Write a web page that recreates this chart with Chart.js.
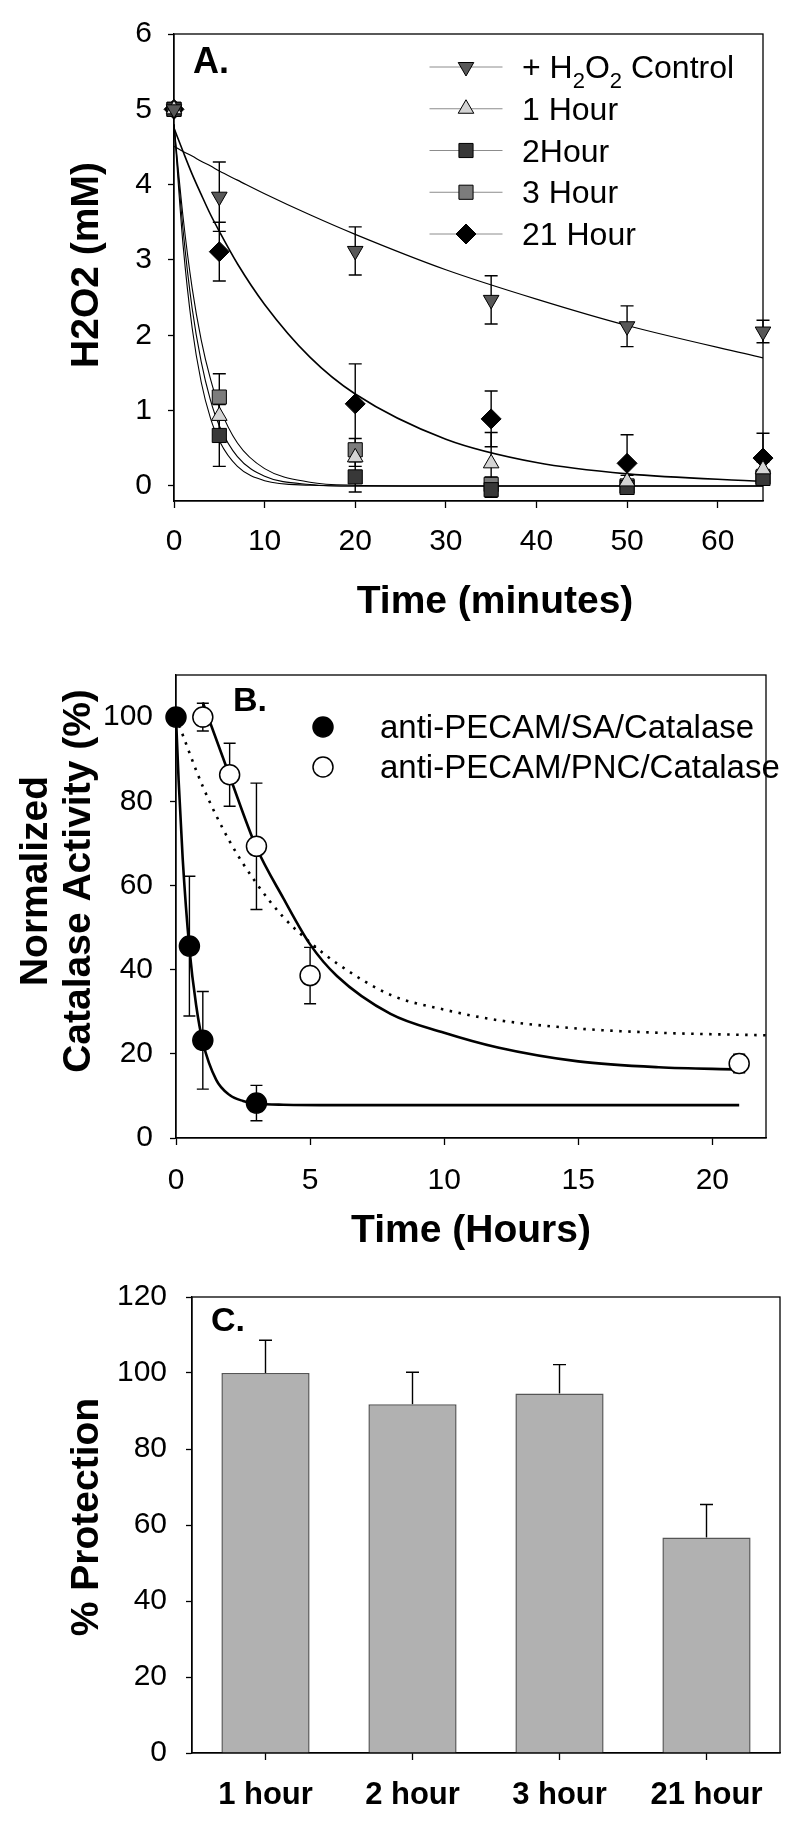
<!DOCTYPE html>
<html>
<head>
<meta charset="utf-8">
<script src="https://cdn.jsdelivr.net/npm/chart.js@4.4.0/dist/chart.umd.min.js"></script>
<style>
body { margin: 0; background: #fff; width: 800px; height: 1828px; position: relative; overflow: hidden; }
canvas { position: absolute; left: 0; }
</style>
</head>
<body>
<canvas id="chartA" width="800" height="640" style="top:0px"></canvas>
<canvas id="chartB" width="800" height="620" style="top:640px"></canvas>
<canvas id="chartC" width="800" height="568" style="top:1260px"></canvas>
<script>
// ---- Panel A: H2O2 (mM) vs time (minutes) ----
var timesA = [0, 5, 20, 35, 50, 65];
var controlA = [5, 3.84, 3.12, 2.47, 2.12, 2.05];
var controlErrA = [0, 0.46, 0.32, 0.32, 0.27, 0.15];
var hour1A = [5, 0.93, 0.38, 0.30, 0.06, 0.22];
var hour1ErrA = [0, 0.25, 0.12, 0.41, 0.08, 0.1];
var hour2A = [5, 0.67, 0.12, -0.05, -0.02, 0.10];
var hour2ErrA = [0, 0.41, 0.2, 0.1, 0.06, 0.08];
var hour3A = [5, 1.18, 0.48, 0.02, 0.0, 0.12];
var hour3ErrA = [0, 0.31, 0.15, 0.1, 0.06, 0.1];
var hour21A = [5, 3.11, 1.09, 0.89, 0.30, 0.37];
var hour21ErrA = [0, 0.39, 0.53, 0.37, 0.38, 0.33];

// fitted curves
var fitTimesA = [0, 1, 2, 3, 4, 5, 7, 10, 15, 20, 30, 40, 50, 65];
var controlFitA = [4.51, 4.44, 4.38, 4.31, 4.25, 4.18, 4.06, 3.88, 3.60, 3.34, 2.87, 2.48, 2.13, 1.70];
var hour1FitA = [4.8, 3.4, 2.36, 1.65, 1.15, 0.8, 0.39, 0.13, 0.02, 0, 0, 0, 0, 0];
var hour2FitA = [4.8, 3.2, 2.1, 1.38, 0.91, 0.6, 0.26, 0.07, 0.01, 0, 0, 0, 0, 0];
var hour3FitA = [4.8, 3.57, 2.63, 1.94, 1.43, 1.05, 0.57, 0.23, 0.05, 0.01, 0, 0, 0, 0];
var hour21FitA = [4.75, 4.44, 4.14, 3.87, 3.61, 3.38, 2.95, 2.41, 1.71, 1.22, 0.62, 0.31, 0.16, 0.06];

// ---- Panel B: normalized catalase activity (%) vs time (hours) ----
var timesSA = [0, 0.5, 1, 3];
var saActivity = [100, 45.6, 23.2, 8.3];
var saErr = [0, 16.6, 11.6, 4.2];
var timesPNC = [1, 2, 3, 5, 21];
var pncActivity = [100, 86.3, 69.3, 38.6, 17.7];
var pncErr = [3.3, 7.5, 15, 6.7, 2.2];

var saFitT = [0, 0.1, 0.25, 0.5, 0.75, 1, 1.5, 2, 2.5, 3, 4, 6, 10, 21];
var saFit = [100, 84.7, 66.3, 45, 31.6, 22.8, 13.8, 10.2, 8.8, 8.2, 7.9, 7.8, 7.8, 7.8];
var pncFitT = [1, 2, 3, 4, 5, 6, 8, 10, 12, 15, 18, 21];
var pncFit = [103.5, 86, 69, 57, 46, 38.5, 29.5, 25, 21.5, 18.2, 16.8, 16.3];
var pncDotT = [0, 1, 2, 3, 4, 5, 6, 8, 10, 12, 15, 18, 22];
var pncDot = [100, 83.5, 70.5, 60.5, 52.5, 46.5, 41.5, 34, 30.5, 28, 26, 25, 24.4];

// ---- Panel C: % protection ----
var groupsC = ['1 hour', '2 hour', '3 hour', '21 hour'];
var protectionC = [100, 91.8, 94.6, 56.7];
var protectionErrC = [8.6, 8.4, 7.6, 8.7];

var FONT = "'Liberation Sans', Arial, Helvetica, sans-serif";

function pts(xs, ys) {
  return xs.map(function(x, i) { return {x: x, y: ys[i]}; });
}

function marker(label, xs, ys, errs, style) {
  var ds = {
    label: label, data: pts(xs, ys), errors: errs, inKey: true,
    showLine: false, clip: false,
    pointBorderColor: '#000', pointBorderWidth: 1, pointRadius: 9, pointHoverRadius: 9
  };
  for (var k in style) ds[k] = style[k];
  return ds;
}

function curve(xs, ys, width, dash) {
  return {
    data: pts(xs, ys), borderColor: '#000', borderWidth: width, borderDash: dash || [],
    pointRadius: 0, fill: false, cubicInterpolationMode: 'monotone'
  };
}

function drawMarker(ctx, ds, x, y) {
  ctx.save();
  ctx.fillStyle = ds.pointBackgroundColor;
  ctx.strokeStyle = ds.pointBorderColor;
  ctx.lineWidth = ds.pointBorderWidth;
  Chart.helpers.drawPoint(ctx, {
    pointStyle: ds.pointStyle, rotation: ds.pointRotation || 0,
    radius: ds.pointRadius, borderWidth: ds.pointBorderWidth
  }, x, y);
  ctx.restore();
}

// text with "₂" drawn as a real lowered subscript
function drawRich(ctx, text, x, y, size) {
  text.split(/(₂)/).forEach(function(p) {
    if (!p) return;
    if (p === '₂') {
      ctx.font = Math.round(size * 0.68) + 'px ' + FONT;
      ctx.fillText('2', x, y + size * 0.3);
      x += ctx.measureText('2').width;
    } else {
      ctx.font = size + 'px ' + FONT;
      ctx.fillText(p, x, y);
      x += ctx.measureText(p).width;
    }
  });
}

var framePlugin = {
  id: 'frame',
  beforeDatasetsDraw: function(chart) {
    var a = chart.chartArea, ctx = chart.ctx;
    ctx.save();
    ctx.strokeStyle = '#000';
    ctx.lineWidth = 1.3;
    ctx.strokeRect(a.left, a.top, a.right - a.left, a.bottom - a.top);
    ctx.restore();
  }
};

var errorBarPlugin = {
  id: 'errorBars',
  beforeDatasetsDraw: function(chart, args, opts) {
    var ctx = chart.ctx;
    var cap = opts.cap || 6;
    chart.data.datasets.forEach(function(ds, i) {
      if (!ds.errors) return;
      var meta = chart.getDatasetMeta(i);
      var yScale = chart.scales[meta.yAxisID];
      ctx.save();
      ctx.strokeStyle = '#000';
      ctx.lineWidth = 1.4;
      meta.data.forEach(function(el, j) {
        var e = ds.errors[j];
        if (!e) return;
        var v = ds.data[j];
        var val = (typeof v === 'object') ? v.y : v;
        var top = yScale.getPixelForValue(val + e);
        var bot = ds.errorUpOnly ? el.y : yScale.getPixelForValue(val - e);
        ctx.beginPath();
        ctx.moveTo(el.x, top); ctx.lineTo(el.x, bot);
        ctx.moveTo(el.x - cap, top); ctx.lineTo(el.x + cap, top);
        if (!ds.errorUpOnly) { ctx.moveTo(el.x - cap, bot); ctx.lineTo(el.x + cap, bot); }
        ctx.stroke();
      });
      ctx.restore();
    });
  }
};

var keyPlugin = {
  id: 'key',
  afterDatasetsDraw: function(chart, args, opts) {
    if (!opts || !opts.x) return;
    var ctx = chart.ctx;
    var rows = chart.data.datasets.filter(function(d) { return d.inKey; });
    rows.forEach(function(ds, i) {
      var y = opts.y + i * opts.gap;
      if (opts.lineLength) {
        ctx.save();
        ctx.strokeStyle = '#8c8c8c';
        ctx.lineWidth = 1;
        ctx.beginPath();
        ctx.moveTo(opts.x - opts.lineLength / 2, y);
        ctx.lineTo(opts.x + opts.lineLength / 2, y);
        ctx.stroke();
        ctx.restore();
      }
      drawMarker(ctx, ds, opts.x, y);
      ctx.save();
      ctx.fillStyle = '#000';
      ctx.textBaseline = 'alphabetic';
      drawRich(ctx, ds.label, opts.textX, y + opts.textDy, opts.fontSize);
      ctx.restore();
    });
  }
};

var textPlugin = {
  id: 'figText',
  afterDraw: function(chart, args, opts) {
    var ctx = chart.ctx;
    (opts.items || []).forEach(function(it) {
      ctx.save();
      ctx.fillStyle = '#000';
      ctx.font = it.font;
      ctx.textAlign = it.align || 'left';
      ctx.textBaseline = 'alphabetic';
      ctx.translate(it.x, it.y);
      if (it.rotate) ctx.rotate(-Math.PI / 2);
      ctx.fillText(it.text, 0, 0);
      ctx.restore();
    });
  }
};

Chart.register(framePlugin, errorBarPlugin, keyPlugin, textPlugin);

function axisStyle(size, pad, tickLen, step) {
  return {
    ticks: {color: '#000', font: {size: size, family: FONT}, padding: pad, stepSize: step, includeBounds: false},
    grid: {drawOnChartArea: false, tickLength: tickLen, tickWidth: 1.3, tickColor: '#000'},
    border: {color: '#000', width: 1.3}
  };
}

function merge(a, b) { for (var k in b) a[k] = b[k]; return a; }

function keepTicks(lo, hi) {
  return function(s) {
    s.ticks = s.ticks.filter(function(t) { return t.value >= lo && t.value <= hi; });
  };
}

var BOLD39 = 'bold 39px ' + FONT;

// ---------- A ----------
new Chart(document.getElementById('chartA'), {
  type: 'line',
  data: {
    datasets: [
      marker('+ H₂O₂ Control', timesA, controlA, controlErrA,
        {pointStyle: 'triangle', pointRotation: 180, pointBackgroundColor: '#585858'}),
      marker('1 Hour', timesA, hour1A, hour1ErrA,
        {pointStyle: 'triangle', pointBackgroundColor: '#d4d4d4'}),
      marker('2Hour', timesA, hour2A, hour2ErrA,
        {pointStyle: 'rect', pointRadius: 10, pointBackgroundColor: '#383838'}),
      marker('3 Hour', timesA, hour3A, hour3ErrA,
        {pointStyle: 'rect', pointRadius: 10, pointBackgroundColor: '#7c7c7c'}),
      marker('21 Hour', timesA, hour21A, hour21ErrA,
        {pointStyle: 'rectRot', pointRadius: 10, pointBackgroundColor: '#000'}),
      curve(fitTimesA, controlFitA, 1.2),
      curve(fitTimesA, hour1FitA, 1.1),
      curve(fitTimesA, hour2FitA, 1.1),
      curve(fitTimesA, hour3FitA, 1.1),
      curve(fitTimesA, hour21FitA, 1.6)
    ]
  },
  options: {
    responsive: false, animation: false,
    layout: {padding: {left: 0, top: 30, right: 37, bottom: 0}},
    plugins: {
      legend: {display: false}, tooltip: {enabled: false},
      errorBars: {cap: 6.5},
      key: {x: 466, y: 67, gap: 41.75, lineLength: 73, textX: 522, textDy: 11, fontSize: 32},
      figText: {items: [
        {text: 'A.', x: 193, y: 73, font: 'bold 36px ' + FONT},
        {text: 'Time (minutes)', x: 495, y: 613, font: BOLD39, align: 'center'},
        {text: 'H2O2 (mM)', x: 98, y: 265, font: BOLD39, align: 'center', rotate: true}
      ]}
    },
    scales: {
      x: merge({type: 'linear', min: 0, max: 65,
        afterFit: function(s) { s.height = 139; },
        afterBuildTicks: keepTicks(0, 60)
      }, axisStyle(30, 16, 7, 10)),
      y: merge({type: 'linear', min: -0.2, max: 6,
        afterFit: function(s) { s.width = 174; },
        afterBuildTicks: keepTicks(0, 6)
      }, axisStyle(30, 16, 6, 1))
    }
  }
});

// ---------- B ----------
new Chart(document.getElementById('chartB'), {
  type: 'line',
  data: {
    datasets: [
      marker('anti-PECAM/SA/Catalase', timesSA, saActivity, saErr,
        {pointStyle: 'circle', pointRadius: 10, pointBackgroundColor: '#000', pointBorderWidth: 1.5}),
      marker('anti-PECAM/PNC/Catalase', timesPNC, pncActivity, pncErr,
        {pointStyle: 'circle', pointRadius: 10, pointBackgroundColor: '#fff', pointBorderWidth: 1.5}),
      curve(saFitT, saFit, 2.6),
      curve(pncFitT, pncFit, 2.6),
      curve(pncDotT, pncDot, 2.6, [2.5, 6.5])
    ]
  },
  options: {
    responsive: false, animation: false,
    layout: {padding: {left: 0, top: 26, right: 34, bottom: 0}},
    plugins: {
      legend: {display: false}, tooltip: {enabled: false},
      errorBars: {cap: 6},
      key: {x: 323, y: 87, gap: 40, textX: 380, textDy: 11, fontSize: 33},
      figText: {items: [
        {text: 'B.', x: 233, y: 71, font: 'bold 34px ' + FONT},
        {text: 'Time (Hours)', x: 471, y: 602, font: BOLD39, align: 'center'},
        {text: 'Normalized', x: 47, y: 241, font: BOLD39, align: 'center', rotate: true},
        {text: 'Catalase Activity (%)', x: 90, y: 241, font: BOLD39, align: 'center', rotate: true}
      ]}
    },
    scales: {
      x: merge({type: 'linear', min: 0, max: 22,
        afterFit: function(s) { s.height = 122; },
        afterBuildTicks: keepTicks(0, 20)
      }, axisStyle(30, 18, 7, 5)),
      y: merge({type: 'linear', min: 0, max: 110,
        afterFit: function(s) { s.width = 176; },
        afterBuildTicks: keepTicks(0, 100)
      }, axisStyle(30, 17, 6, 20))
    }
  }
});

// ---------- C ----------
var cx = axisStyle(31, 17, 7);
cx.ticks.font.weight = 'bold';
cx.grid.offset = false;
new Chart(document.getElementById('chartC'), {
  type: 'bar',
  data: {
    labels: groupsC,
    datasets: [{
      data: protectionC, errors: protectionErrC, errorUpOnly: true,
      backgroundColor: '#b1b1b1', borderColor: '#555', borderWidth: 1.5,
      barPercentage: 0.6, categoryPercentage: 1
    }]
  },
  options: {
    responsive: false, animation: false,
    layout: {padding: {left: 0, top: 21, right: 20, bottom: 0}},
    plugins: {
      legend: {display: false}, tooltip: {enabled: false},
      errorBars: {cap: 6.5},
      figText: {items: [
        {text: 'C.', x: 211, y: 71, font: 'bold 34px ' + FONT},
        {text: '% Protection', x: 98, y: 257, font: BOLD39, align: 'center', rotate: true}
      ]}
    },
    scales: {
      x: merge({afterFit: function(s) { s.height = 75; }}, cx),
      y: merge({min: 0, max: 120, afterFit: function(s) { s.width = 192; }}, axisStyle(30, 19, 6, 20))
    }
  }
});
</script>
</body>
</html>
